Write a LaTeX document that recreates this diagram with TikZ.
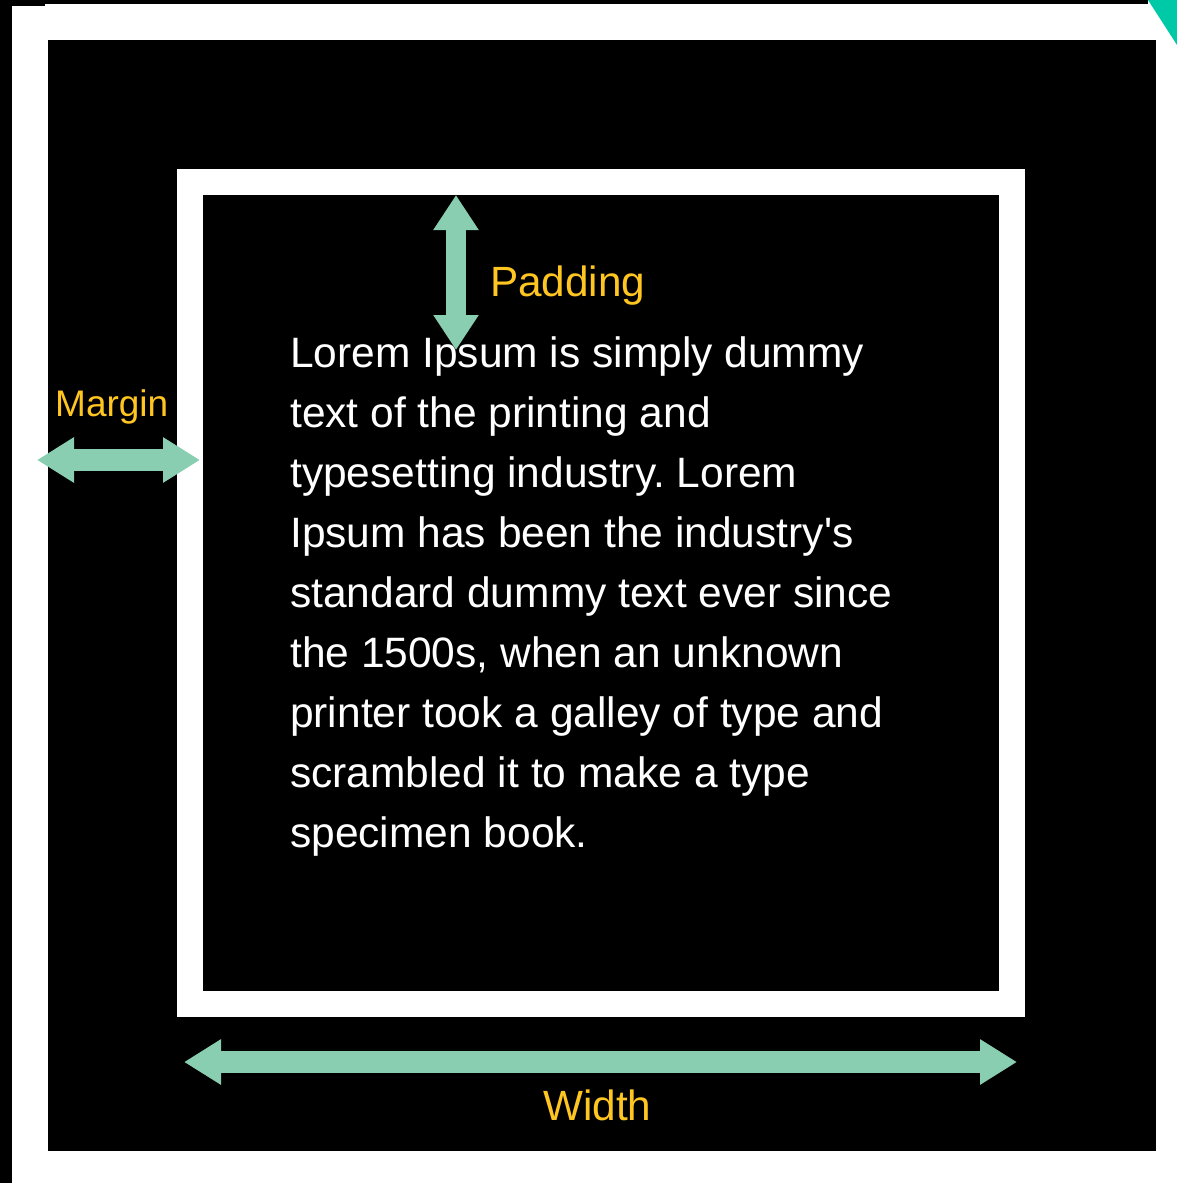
\documentclass[tikz,border=0pt]{standalone}
\usepackage{fontspec}
\setmainfont{Liberation Sans}
\usetikzlibrary{arrows.meta}
\frenchspacing
\definecolor{arrowgreen}{RGB}{137,206,176}
\definecolor{labelyellow}{RGB}{255,198,34}
\definecolor{cornerteal}{RGB}{0,201,167}
\tikzset{
  dimarrow/.style={draw=arrowgreen, line width=22pt,
    {Triangle[length=37pt,width=43pt]}-{Triangle[length=37pt,width=43pt]}},
  vdimarrow/.style={draw=arrowgreen, line width=20pt,
    {Triangle[length=35pt,width=43pt]}-{Triangle[length=35pt,width=43pt]}},
  label/.style={text=labelyellow, inner sep=0pt, anchor=base west,
    font=\fontsize{42.3}{48}\selectfont},
  bodytext/.style={text=white, inner sep=0pt, anchor=base west, align=left,
    font=\fontsize{42.5}{60}\selectfont\frenchspacing}
}
\begin{document}
\begin{tikzpicture}[x=1pt,y=-1pt]
\useasboundingbox (0,0) rectangle (1177,1183);
\fill[white] (0,0) rectangle (1177,1183);
% page edges
\fill[black] (0,0) rectangle (12,1183);
\fill[black] (0,0) rectangle (1148,4);
\fill[black] (0,0) rectangle (45,6);
\fill[cornerteal] (1148,0) -- (1177,0) -- (1177,45) -- cycle;
% margin box (black), border (white), content box (black)
\fill[black] (48,40) rectangle (1156,1151);
\fill[white] (177,169) rectangle (1025,1017);
\fill[black] (203,195) rectangle (999,991);
% dimension arrows
\coordinate (mL) at (37,460);
\coordinate (mR) at (200,460);
\coordinate (pT) at (456,195);
\coordinate (pB) at (456,350);
\coordinate (wL) at (184,1062);
\coordinate (wR) at (1017,1062);
\draw[vdimarrow] (pT) -- (pB);
\draw[dimarrow] (mL) -- (mR);
\draw[dimarrow] (wL) -- (wR);
% labels
\node[label, font=\fontsize{37}{44}\selectfont] (marginlbl) at (55,416) {Margin};
\node[label] (paddinglbl) at (490,296) {Padding};
\node[label] (widthlbl) at (543,1120) {Width};
% body text (base anchor = baseline of the last line)
\node[bodytext] (body) at (290,847) {Lorem Ipsum is simply dummy\\
text of the printing and\\
typesetting industry. Lorem\\
Ipsum has been the industry\textquotesingle s\\
standard dummy text ever since\\
the 1500s, when an unknown\\
printer took a galley of type and\\
scrambled it to make a type\\
specimen book.};
\end{tikzpicture}
\end{document}
